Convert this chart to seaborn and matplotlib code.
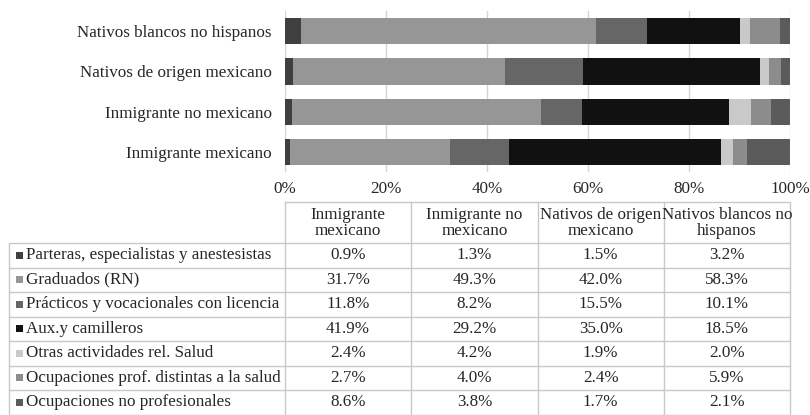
import matplotlib
matplotlib.use("Agg")
import matplotlib.pyplot as plt
from matplotlib.patches import Rectangle
import seaborn as sns

# Population groups (table column order) and the order shown in the bar chart
grupos = ["Inmigrante mexicano", "Inmigrante no mexicano",
          "Nativos de origen mexicano", "Nativos blancos no hispanos"]
grupos_encabezado = ["Inmigrante\nmexicano", "Inmigrante no\nmexicano",
                     "Nativos de origen\nmexicano", "Nativos blancos no\nhispanos"]
orden_barras = ["Nativos blancos no hispanos", "Nativos de origen mexicano",
                "Inmigrante no mexicano", "Inmigrante mexicano"]

# Occupational categories (stack order, left to right)
ocupaciones = ["Parteras, especialistas y anestesistas", "Graduados (RN)",
               "Prácticos y vocacionales con licencia", "Aux.y camilleros",
               "Otras actividades rel. Salud",
               "Ocupaciones prof. distintas a la salud",
               "Ocupaciones no profesionales"]

# Share (%) of each occupation per group, in the order of `grupos`
parteras = [0.9, 1.3, 1.5, 3.2]
graduados = [31.7, 49.3, 42.0, 58.3]
practicos = [11.8, 8.2, 15.5, 10.1]
auxiliares = [41.9, 29.2, 35.0, 18.5]
otras_salud = [2.4, 4.2, 1.9, 2.0]
prof_no_salud = [2.7, 4.0, 2.4, 5.9]
no_profesionales = [8.6, 3.8, 1.7, 2.1]
series = [parteras, graduados, practicos, auxiliares,
          otras_salud, prof_no_salud, no_profesionales]

colores = ["#3f3f3f", "#969696", "#666666", "#111111",
           "#c9c9c9", "#8c8c8c", "#5b5b5b"]

ticks = [0, 20, 40, 60, 80, 100]
tick_labels = ["0%", "20%", "40%", "60%", "80%", "100%"]

sns.set_style("white")
plt.rcParams["font.family"] = ["Liberation Serif", "DejaVu Serif"]
FS = 12.25
W, H = 810, 415

fig = plt.figure(figsize=(W / 100, H / 100), dpi=100)


def fx(x):
    return x / W


def fy(y):
    return 1 - y / H


# Bar chart area
left, right, top, bottom = 285, 790, 11, 172.2
ax = fig.add_axes([fx(left), fy(bottom), fx(right - left), (bottom - top) / H])

# Stacked bars: draw cumulative totals from the full stack down to the first segment
for k in range(len(series) - 1, -1, -1):
    acumulado = [sum(s[i] for s in series[:k + 1]) for i in range(len(grupos))]
    sns.barplot(x=acumulado, y=grupos, order=orden_barras, orient="h",
                color=colores[k], saturation=1, width=0.65, linewidth=0,
                errorbar=None, ax=ax, zorder=2)

ax.set_xlim(0, 100)
ax.set_xticks(ticks)
ax.set_xticklabels(tick_labels, fontsize=FS)
ax.set_xlabel("")
ax.set_ylabel("")
ax.tick_params(axis="x", length=0, pad=6)
ax.tick_params(axis="y", length=0, pad=9.5, labelsize=FS)
for sp in ax.spines.values():
    sp.set_visible(False)
ax.grid(False)
ax.xaxis.grid(True, color="#d4d4d4", linewidth=1.0)
ax.set_axisbelow(True)

# Data table drawn below the chart, in pixel coordinates
tab = fig.add_axes([0, 0, 1, 1])
tab.set_xlim(0, W)
tab.set_ylim(H, 0)
tab.axis("off")

linea = dict(color="#c8c8c8", linewidth=1.0)
col_edges = [285, 411.25, 537.5, 663.75, 790]
head_top, head_bot = 202, 243
row_h = 24.5
n_rows = len(ocupaciones)
table_bot = head_bot + n_rows * row_h

tab.plot([col_edges[0], col_edges[-1]], [head_top, head_top], **linea)
for xe in col_edges:
    tab.plot([xe, xe], [head_top, table_bot], **linea)
tab.plot([9, 9], [head_bot, table_bot], **linea)
for r in range(n_rows + 1):
    yy = head_bot + r * row_h
    tab.plot([9, col_edges[-1]], [yy, yy], **linea)

for j, txt in enumerate(grupos_encabezado):
    cx = (col_edges[j] + col_edges[j + 1]) / 2
    tab.text(cx, (head_top + head_bot) / 2 + 0.5, txt, ha="center", va="center",
             fontsize=FS, linespacing=1.05)

for r, (nombre, valores, c) in enumerate(zip(ocupaciones, series, colores)):
    cy = head_bot + (r + 0.5) * row_h
    tab.add_patch(Rectangle((15.5, cy - 3.5), 7, 7, facecolor=c, edgecolor="none"))
    tab.text(26.5, cy, nombre, ha="left", va="center", fontsize=FS)
    for j, v in enumerate(valores):
        cx = (col_edges[j] + col_edges[j + 1]) / 2
        tab.text(cx, cy, f"{v:.1f}%", ha="center", va="center", fontsize=FS)

fig.savefig("out.png", dpi=100)
